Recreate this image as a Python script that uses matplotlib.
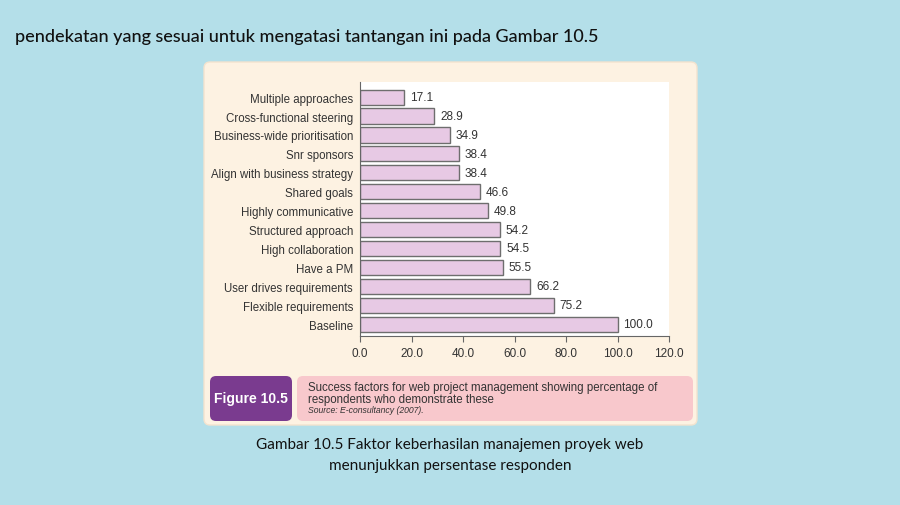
import matplotlib
matplotlib.use("Agg")
import matplotlib.pyplot as plt
from matplotlib.patches import FancyBboxPatch

factors = ['Baseline', 'Flexible requirements', 'User drives requirements', 'Have a PM',
           'High collaboration', 'Structured approach', 'Highly communicative',
           'Shared goals', 'Align with business strategy', 'Snr sponsors',
           'Business-wide prioritisation', 'Cross-functional steering', 'Multiple approaches']
percent = [100.0, 75.2, 66.2, 55.5, 54.5, 54.2, 49.8, 46.6, 38.4, 38.4, 34.9, 28.9, 17.1]
x_ticks = [0, 20, 40, 60, 80, 100, 120]

W, H = 900, 506
fig = plt.figure(figsize=(9, 5.06), dpi=100)
fig.patch.set_facecolor('#b4dfe9')

def box(x0, y0, x1, y1, color, edge='none', pad=6):
    # pixel coords, top-left origin
    p = FancyBboxPatch((x0 / W, 1 - y1 / H), (x1 - x0) / W, (y1 - y0) / H,
                       boxstyle=f"round,pad=0,rounding_size={pad / W}",
                       transform=fig.transFigure, facecolor=color, edgecolor=edge,
                       linewidth=1.0, zorder=0, mutation_aspect=W / H)
    fig.patches.append(p)

# book page panel
box(204, 63, 697, 426, '#fdf2e2', edge='#f3e3cf', pad=6)
box(210, 377, 292, 422, '#7a3b8f', pad=6)
box(297, 377, 693, 422, '#f8c8cc', pad=6)

fig.text(15 / W, 1 - 37 / H, 'pendekatan yang sesuai untuk mengatasi tantangan ini pada Gambar 10.5',
         fontsize=13, family='Lato', fontweight='medium', color='#111111', va='center')
fig.text(251 / W, 1 - 399 / H, 'Figure 10.5', fontsize=10, family='Liberation Sans',
         color='white', fontweight='bold', ha='center', va='center')
fig.text(308 / W, 1 - 388 / H, 'Success factors for web project management showing percentage of',
         fontsize=8.3, family='Liberation Sans', color='#333333', va='center')
fig.text(308 / W, 1 - 400 / H, 'respondents who demonstrate these',
         fontsize=8.3, family='Liberation Sans', color='#333333', va='center')
fig.text(308 / W, 1 - 411 / H, 'Source: E-consultancy (2007).', fontsize=6.2,
         family='Liberation Sans', style='italic', color='#333333', va='center')
fig.text(450 / W, 1 - 445 / H, 'Gambar 10.5 Faktor keberhasilan manajemen proyek web',
         fontsize=11, family='Lato', color='#111111', ha='center', va='center')
fig.text(450 / W, 1 - 466 / H, 'menunjukkan persentase responden',
         fontsize=11, family='Lato', color='#111111', ha='center', va='center')

ax = fig.add_axes([360 / W, 1 - 337 / H, (669 - 360) / W, (337 - 83) / H])
ax.set_zorder(3)
ax.set_facecolor('white')
ypos = list(range(len(factors)))
ax.barh(ypos, percent, height=0.8, color='#e7c9e4', edgecolor='#6e6e6e', linewidth=1.0)
for y, v in zip(ypos, percent):
    ax.text(v + 2.3, y, f'{v:.1f}', va='center', fontsize=8.5, family='Liberation Sans', color='#333333')
ax.set_xlim(0, 120)
ax.set_ylim(-0.63, 12.8)
ax.set_xticks(x_ticks)
ax.set_xticklabels([f'{t:.1f}' for t in x_ticks], fontsize=8.5, family='Liberation Sans', color='#333333')
ax.set_yticks(ypos)
ax.set_yticklabels(factors, fontsize=8.3, family='Liberation Sans', color='#333333')
ax.tick_params(axis='y', length=0, pad=5)
ax.tick_params(axis='x', length=4, color='#666666', pad=4)
for s in ['top', 'right']:
    ax.spines[s].set_visible(False)
for s in ['left', 'bottom']:
    ax.spines[s].set_color('#666666')

fig.savefig('out.png', dpi=100, facecolor=fig.get_facecolor())
